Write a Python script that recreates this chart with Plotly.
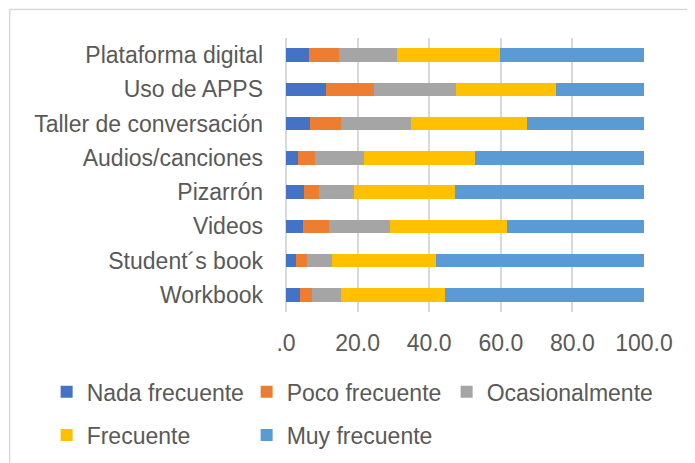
import plotly.graph_objects as go

categories = ["Plataforma digital", "Uso de APPS", "Taller de conversación",
              "Audios/canciones", "Pizarrón", "Videos", "Student´s book", "Workbook"]

nada_frecuente = [6.3, 11.1, 6.6, 3.3, 4.9, 4.7, 2.8, 3.9]
poco_frecuente = [8.5, 13.5, 8.9, 4.7, 4.3, 7.3, 3.1, 3.4]
ocasionalmente = [16.1, 22.8, 19.4, 13.8, 9.8, 17.0, 6.9, 8.0]
frecuente = [29.0, 28.0, 32.5, 31.0, 28.2, 32.8, 29.2, 29.1]
muy_frecuente = [40.1, 24.6, 32.6, 47.2, 52.8, 38.2, 58.0, 55.6]

tick_values = [0, 20, 40, 60, 80, 100]
tick_labels = [".0", "20.0", "40.0", "60.0", "80.0", "100.0"]

series = [
    ("Nada frecuente", nada_frecuente, "#4472C4", "legend"),
    ("Poco frecuente", poco_frecuente, "#ED7D31", "legend"),
    ("Ocasionalmente", ocasionalmente, "#A5A5A5", "legend"),
    ("Frecuente", frecuente, "#FFC000", "legend2"),
    ("Muy frecuente", muy_frecuente, "#5B9BD5", "legend2"),
]

# page body has an 8px margin: figure sits at (8, 8) in the 695x463 window
OFF = 8
W, H = 695 - OFF, 463 - OFF
# plot area in window pixels
PL, PR, PT, PB = 285.5, 643.7, 38, 312
L = PL - OFF
R = W - (PR - OFF)
T = PT - OFF
B = H - (PB - OFF)
pw, ph = PR - PL, PB - PT

def px_x(x):
    return (x - PL) / pw

def px_y(y):
    return (PB - y) / ph

fig = go.Figure()
for name, vals, color, lg in series:
    fig.add_trace(go.Bar(
        y=categories, x=vals, name=name, orientation="h",
        marker=dict(color=color, line=dict(width=0)),
        legend=lg,
        legendwidth=180 if name == "Ocasionalmente" else None,
    ))

font_color = "#595959"
fnt = "Liberation Sans, Arial, sans-serif"

legend_common = dict(
    orientation="h", xanchor="left", yanchor="middle",
    font=dict(family=fnt, size=23, color=font_color),
    entrywidth=155, bgcolor="rgba(0,0,0,0)", traceorder="normal",
)

fig.update_layout(
    width=W, height=H,
    margin=dict(l=L, r=R, t=T, b=B, pad=0, autoexpand=False),
    barmode="stack", bargap=0.61,
    plot_bgcolor="white", paper_bgcolor="white",
    font=dict(family=fnt, size=23, color=font_color),
    xaxis=dict(
        range=[0, 100], tickvals=tick_values, ticktext=tick_labels,
        showgrid=True, gridcolor="#D9D9D9", gridwidth=2,
        zeroline=True, zerolinecolor="#D9D9D9", zerolinewidth=2,
        showline=False, ticks="", ticklabelstandoff=15,
        tickfont=dict(family=fnt, size=23, color=font_color),
        fixedrange=True,
    ),
    yaxis=dict(
        autorange="reversed", showgrid=False, zeroline=False, showline=False,
        ticks="", ticklabelstandoff=22,
        tickfont=dict(family=fnt, size=23, color=font_color),
        fixedrange=True,
    ),
    legend=dict(x=px_x(46), y=px_y(391.7), **legend_common),
    legend2=dict(x=px_x(46), y=px_y(435), **legend_common),
    showlegend=True,
    shapes=[dict(
        type="rect", xref="paper", yref="paper",
        x0=px_x(9), x1=px_x(720), y0=px_y(480), y1=px_y(9.5),
        line=dict(color="#D9D9D9", width=1.5), fillcolor="rgba(0,0,0,0)",
        layer="below",
    )],
)

fig.write_html("out.html")
